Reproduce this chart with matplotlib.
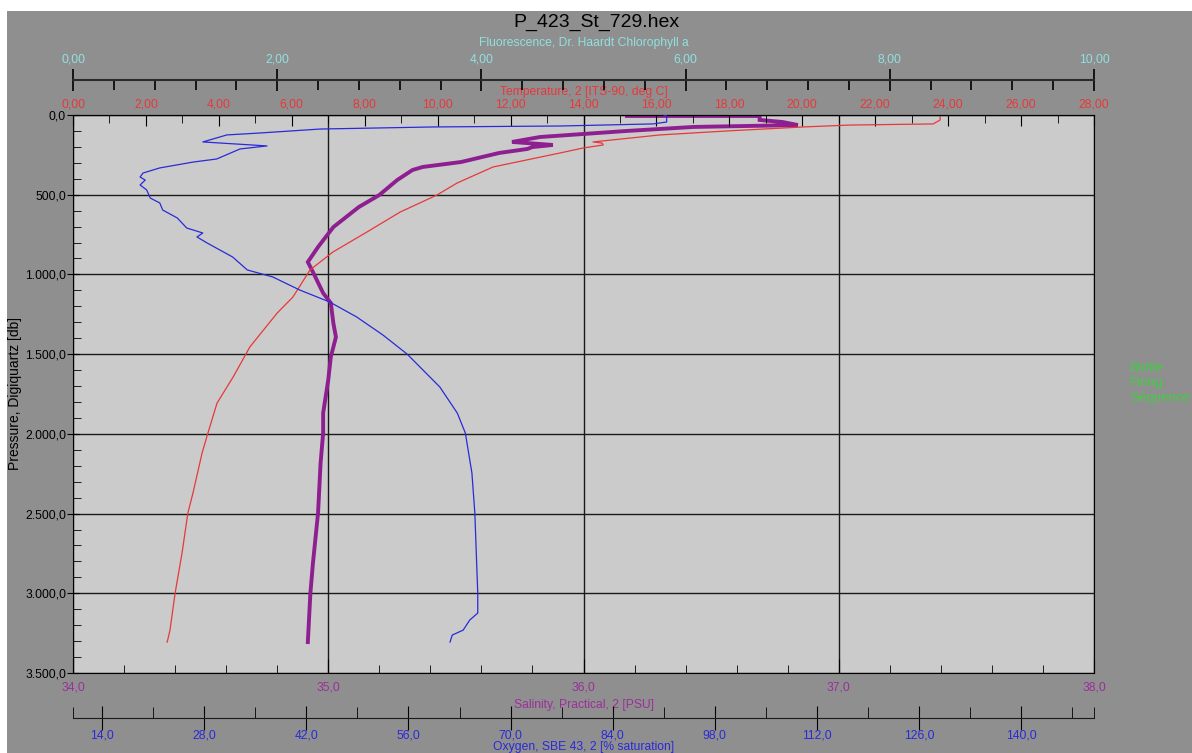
import matplotlib
matplotlib.use("Agg")
import matplotlib.pyplot as plt
from matplotlib.ticker import MultipleLocator, FixedLocator, FuncFormatter
from matplotlib.patches import Rectangle

plt.rcParams['font.family'] = ['Liberation Sans Narrow', 'Liberation Sans', 'DejaVu Sans']

# Oxygen profile [% saturation] vs pressure [db]
oxy_p = [0, 6, 44, 56, 69, 75, 88, 113, 125, 169, 194, 213, 276, 295, 332, 364,
         389, 408, 439, 470, 521, 552, 596, 646, 709, 740, 765, 803, 891, 972,
         1016, 1098, 1173, 1267, 1380, 1499, 1706, 1870, 1995, 2246, 2497, 2999,
         3124, 3168, 3231, 3262, 3306]
oxy = [91.0, 91.4, 91.4, 89.5, 76.8, 59.4, 43.9, 35.6, 31.1, 27.8, 36.6, 32.9,
       29.7, 26.5, 21.9, 19.6, 19.2, 19.9, 19.2, 20.1, 20.6, 21.9, 22.3, 24.3,
       25.6, 27.8, 27.0, 28.4, 31.9, 33.9, 37.4, 41.1, 45.2, 48.9, 52.5, 55.8,
       60.3, 62.7, 63.8, 64.7, 65.1, 65.5, 65.5, 64.4, 63.5, 62.0, 61.7]

# Temperature [deg C] vs pressure [db]
temp_p = [0, 31, 56, 63, 75, 100, 125, 169, 176, 188, 207, 238, 326, 427, 502,
          609, 734, 859, 972, 1142, 1242, 1455, 1644, 1807, 1995, 2120, 2371,
          2497, 2748, 2999, 3231, 3290, 3306]
temp = [23.78, 23.78, 23.59, 21.31, 20.02, 17.94, 16.10, 14.26, 14.51, 14.54,
        13.99, 13.36, 11.52, 10.53, 9.98, 8.97, 8.06, 7.13, 6.50, 6.03, 5.60,
        4.85, 4.39, 3.95, 3.70, 3.54, 3.29, 3.15, 2.99, 2.80, 2.66, 2.60, 2.58]

# Salinity [PSU] vs pressure [db]
sal_p = [0, 6, 6, 31, 44, 63, 75, 100, 138, 169, 188, 201, 213, 238, 295, 326,
         345, 408, 502, 577, 703, 828, 922, 985, 1117, 1179, 1305, 1393, 1518,
         1662, 1870, 1995, 2183, 2497, 2811, 2999, 3306]
sal = [36.17, 36.17, 36.69, 36.69, 36.78, 36.84, 36.43, 36.17, 35.83, 35.72,
       35.88, 35.80, 35.78, 35.67, 35.52, 35.37, 35.33, 35.27, 35.20, 35.12,
       35.02, 34.96, 34.92, 34.94, 34.98, 35.01, 35.02, 35.03, 35.01, 35.00,
       34.98, 34.98, 34.97, 34.96, 34.94, 34.93, 34.92]

bottle_text = "Bottle\nFiring\nSequence"


def comma_fmt(decimals):
    """formato con coma decimal y punto de miles"""
    def fmt(v, pos):
        s = f"{v:,.{decimals}f}"
        return s.replace(",", "X").replace(".", ",").replace("X", ".")
    return FuncFormatter(fmt)


W, H = 1192, 753
fig = plt.figure(figsize=(W / 100, H / 100), dpi=100)
fig.patch.set_facecolor("white")
fig.add_artist(Rectangle((7 / W, 0), 1 - 7 / W, 1 - 11 / H, transform=fig.transFigure,
                         facecolor="#8f8f8f", edgecolor="none", zorder=-5))

left, right, top, bottom = 73, 1094, 115, 673
ax = fig.add_axes([left / W, 1 - bottom / H, (right - left) / W, (bottom - top) / H])
ax.set_facecolor("#cbcbcb")

tick_fs = 8.7
sal_col = "#9b2f9b"
temp_col = "#e8383a"
oxy_col = "#2a2ad8"
flu_col = "#8fe0e0"

# Presion (eje y) y salinidad (eje x inferior)
ax.set_ylim(3500, 0)
ax.set_xlim(34, 38)
ax.yaxis.set_major_locator(MultipleLocator(500))
ax.yaxis.set_minor_locator(MultipleLocator(100))
ax.yaxis.set_major_formatter(comma_fmt(1))
ax.xaxis.set_major_locator(MultipleLocator(1))
ax.xaxis.set_minor_locator(MultipleLocator(0.2))
ax.xaxis.set_major_formatter(comma_fmt(1))
ax.tick_params(axis="y", which="major", direction="inout", length=8, labelsize=tick_fs,
               pad=1, colors="black")
ax.tick_params(axis="y", which="minor", direction="in", length=6)
ax.tick_params(axis="x", which="major", direction="in", length=10, labelsize=tick_fs,
               pad=6, labelcolor=sal_col)
ax.tick_params(axis="x", which="minor", direction="in", length=6)
ax.grid(True, which="major", color="#1a1a1a", lw=1)
ax.set_ylabel("Pressure, Digiquartz [db]", fontsize=10, labelpad=2)
ax.set_xlabel("Salinity, Practical, 2 [PSU]", fontsize=tick_fs, color=sal_col, labelpad=4)
for s in ax.spines.values():
    s.set_color("black")
ax.plot(sal, sal_p, color="#8e1f90", lw=2.8, solid_joinstyle="miter")

# Temperatura (eje superior)
ax_t = ax.twiny()
ax_t.set_xlim(0, 28)
ax_t.xaxis.set_major_locator(MultipleLocator(2))
ax_t.xaxis.set_minor_locator(MultipleLocator(1))
ax_t.xaxis.set_major_formatter(comma_fmt(2))
ax_t.tick_params(axis="x", which="major", direction="in", length=8, labelsize=tick_fs,
                 pad=3, labelcolor=temp_col)
ax_t.tick_params(axis="x", which="minor", direction="in", length=6)
ax_t.set_xlabel("Temperature, 2 [ITS-90, deg C]", fontsize=tick_fs, color=temp_col,
                labelpad=3)
for k in ["left", "right", "bottom"]:
    ax_t.spines[k].set_visible(False)
ax_t.plot(temp, temp_p, color=temp_col, lw=0.9)

# Fluorescencia (eje superior desplazado)
ax_f = ax.twiny()
ax_f.set_xlim(0, 10)
ax_f.spines["top"].set_position(("outward", 25))
ax_f.spines["top"].set_color("#2a2a2a")
ax_f.spines["top"].set_linewidth(1.5)
for k in ["left", "right", "bottom"]:
    ax_f.spines[k].set_visible(False)
ax_f.xaxis.set_major_locator(MultipleLocator(2))
ax_f.xaxis.set_minor_locator(MultipleLocator(0.4))
ax_f.xaxis.set_major_formatter(comma_fmt(2))
ax_f.tick_params(axis="x", which="major", direction="inout", length=16, labelsize=tick_fs,
                 pad=3, labelcolor=flu_col, width=1.2)
ax_f.tick_params(axis="x", which="minor", direction="in", length=7, width=1.2)
ax_f.set_xlabel("Fluorescence, Dr. Haardt Chlorophyll a", fontsize=tick_fs, color=flu_col,
                labelpad=5)

# Oxigeno (eje inferior desplazado)
ax_o = ax.twiny()
ax_o.set_xlim(10, 150)
ax_o.xaxis.set_ticks_position("bottom")
ax_o.xaxis.set_label_position("bottom")
ax_o.spines["bottom"].set_position(("outward", 32.5))
ax_o.spines["bottom"].set_color("#1a1a1a")
for k in ["left", "right", "top"]:
    ax_o.spines[k].set_visible(False)
ax_o.xaxis.set_major_locator(MultipleLocator(14))
ax_o.xaxis.set_minor_locator(FixedLocator([10, 21, 35, 49, 63, 77, 91, 105, 119, 133,
                                           147, 150]))
ax_o.xaxis.set_major_formatter(comma_fmt(1))
ax_o.tick_params(axis="x", which="major", direction="inout", length=17, labelsize=tick_fs,
                 pad=0, labelcolor=oxy_col)
ax_o.tick_params(axis="x", which="minor", direction="in", length=8)
ax_o.set_xlabel("Oxygen, SBE 43, 2 [% saturation]", fontsize=tick_fs, color=oxy_col,
                labelpad=-1)
ax_o.plot(oxy, oxy_p, color=oxy_col, lw=0.9)

fig.text(596 / W, 1 - 22 / H, "P_423_St_729.hex", ha="center", va="center", fontsize=14,
         family="Liberation Sans")
fig.text(1130 / W, 1 - 383 / H, bottle_text, ha="left", va="center", fontsize=9.5,
         color="#3fcf3f", linespacing=1.3)

fig.savefig("out.png", dpi=100, facecolor=fig.get_facecolor())
